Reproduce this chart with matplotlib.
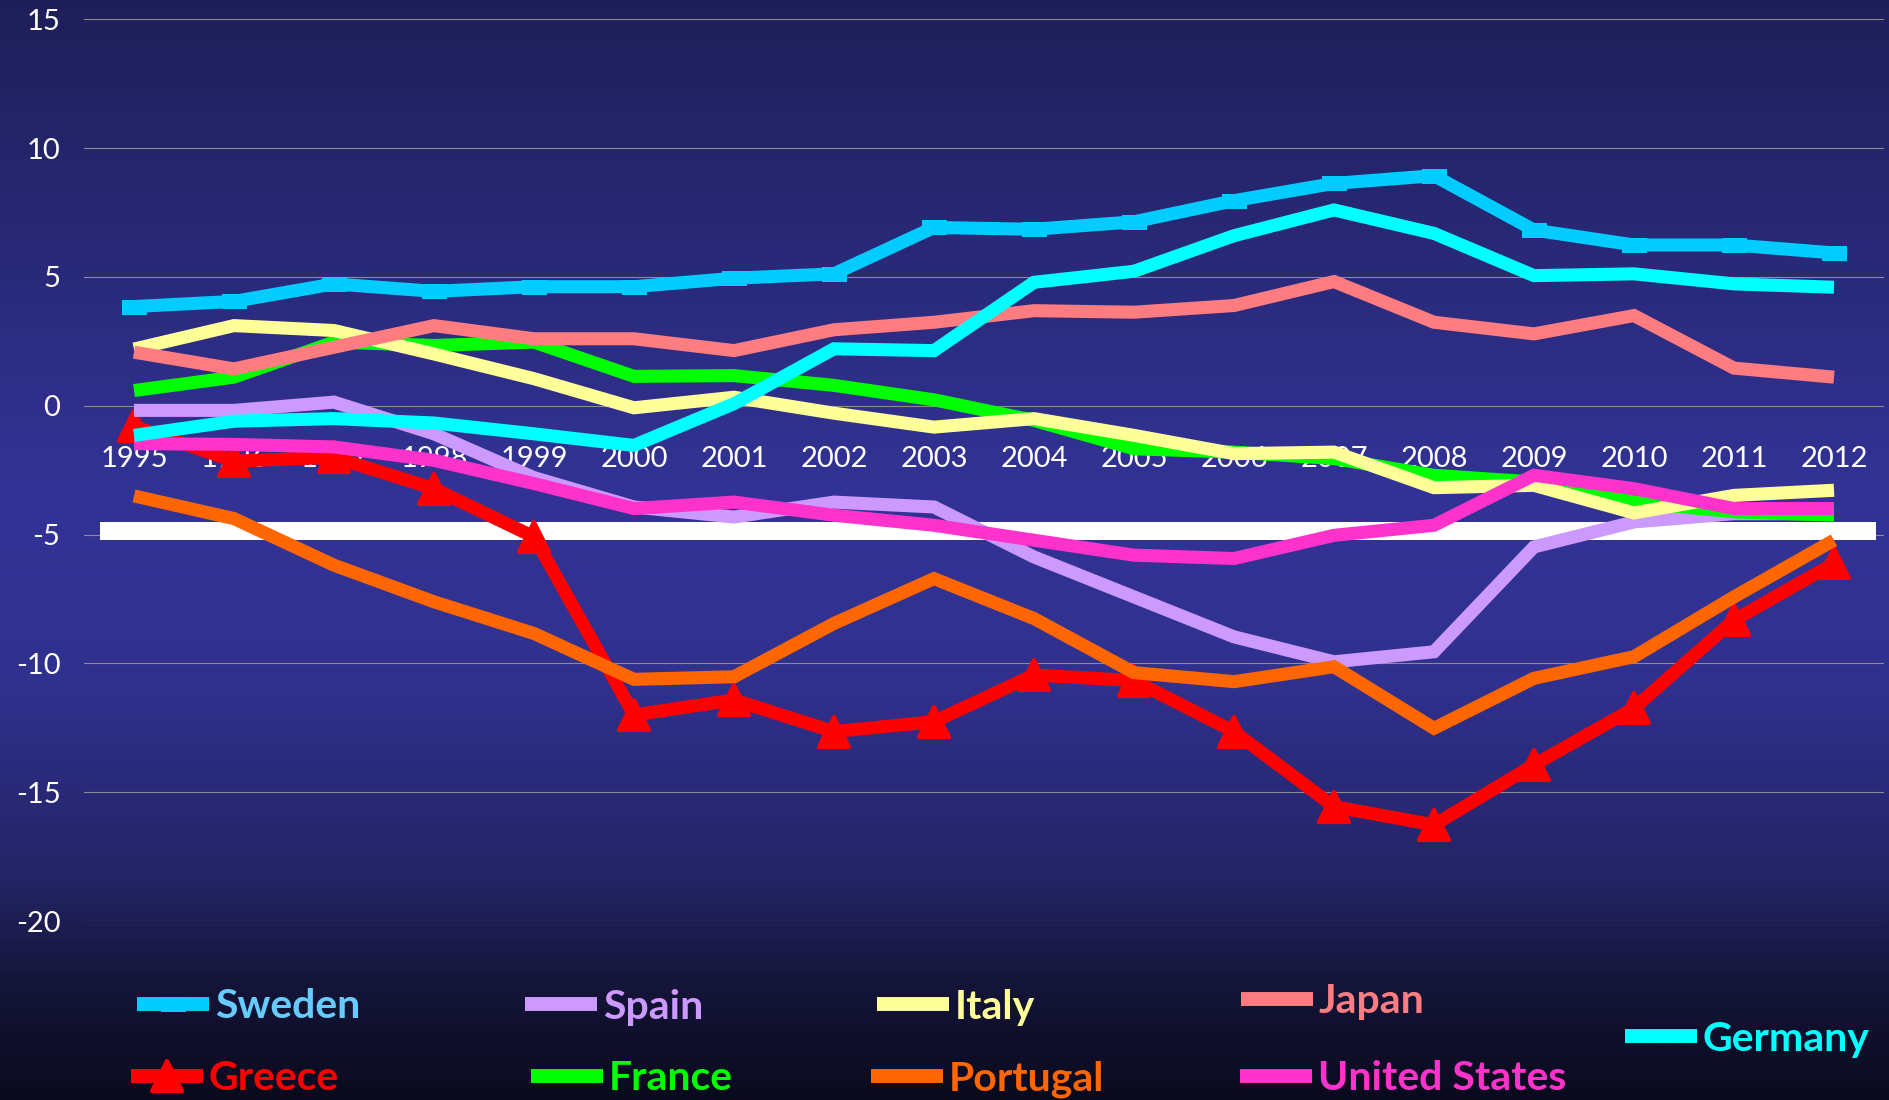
import numpy as np
import matplotlib as mpl
mpl.use("Agg")
import matplotlib.pyplot as plt
from matplotlib.lines import Line2D
from matplotlib.colors import LinearSegmentedColormap

plt.rcParams["font.family"] = ["Lato", "DejaVu Sans"]
plt.rcParams["axes.unicode_minus"] = False

years = [str(y) for y in range(1995, 2013)]

sweden = [3.85, 4.05, 4.73, 4.44, 4.62, 4.62, 4.95, 5.12, 6.92, 6.85, 7.14, 7.96, 8.63, 8.93, 6.82, 6.24, 6.24, 5.93]
germany = [-1.15, -0.6, -0.5, -0.67, -1.09, -1.54, 0.08, 2.21, 2.14, 4.79, 5.22, 6.6, 7.6, 6.69, 5.05, 5.12, 4.73, 4.6]
japan = [2.08, 1.43, 2.27, 3.11, 2.6, 2.6, 2.14, 2.95, 3.24, 3.69, 3.63, 3.89, 4.82, 3.24, 2.79, 3.5, 1.46, 1.11]
italy = [2.2, 3.11, 2.92, 2.01, 1.05, -0.08, 0.33, -0.29, -0.83, -0.5, -1.15, -1.86, -1.8, -3.18, -3.09, -4.16, -3.48, -3.28]
france = [0.59, 1.11, 2.47, 2.34, 2.47, 1.14, 1.17, 0.79, 0.23, -0.57, -1.67, -1.8, -2.05, -2.7, -2.96, -3.74, -4.12, -4.25]
spain = [-0.18, -0.18, 0.14, -1.09, -2.79, -3.93, -4.32, -3.74, -3.93, -5.87, -7.42, -8.97, -9.94, -9.55, -5.48, -4.51, -4.19, -4.19]
united_states = [-1.47, -1.5, -1.6, -2.12, -3.02, -3.99, -3.74, -4.25, -4.64, -5.22, -5.8, -5.93, -5.03, -4.64, -2.7, -3.22, -3.99, -3.99]
portugal = [-3.5, -4.38, -6.19, -7.61, -8.84, -10.62, -10.52, -8.45, -6.71, -8.26, -10.36, -10.71, -10.13, -12.52, -10.58, -9.74, -7.42, -5.22]
greece = [-0.8, -2.15, -2.0, -3.22, -5.09, -12.0, -11.42, -12.65, -12.26, -10.45, -10.67, -12.65, -15.56, -16.27, -13.94, -11.74, -8.32, -6.12]

# white reference band drawn on the slide
band_low, band_high = -5.2, -4.5

rect_marker = [(-1, -0.6), (1, -0.6), (1, 0.6), (-1, 0.6), (-1, -0.6)]
tri_marker = mpl.markers.MarkerStyle("^", joinstyle="round")

# name, data, color, text color, marker, legend anchor (px)
series = [
    ("Greece", greece, "#FF0000", "#FF0000", tri_marker, (131, 1079)),
    ("Spain", spain, "#CC99FF", "#CC99FF", None, (525, 1007)),
    ("France", france, "#00FF00", "#00FF00", None, (531, 1079)),
    ("Italy", italy, "#FFFF99", "#FFFF99", None, (877, 1007)),
    ("Portugal", portugal, "#FF6600", "#FF6600", None, (871, 1079)),
    ("Japan", japan, "#FF7C80", "#FF7C80", None, (1241, 1002)),
    ("United States", united_states, "#FF33CC", "#FF33CC", None, (1240, 1079)),
    ("Germany", germany, "#00FFFF", "#00FFFF", None, (1625, 1039)),
    ("Sweden", sweden, "#00CCFF", "#66CCFF", rect_marker, (137, 1007)),
]

W, H = 1890, 1100
fig = plt.figure(figsize=(W / 100, H / 100), dpi=100)

# background gradient (row 0 = top of the slide)
bg = fig.add_axes([0, 0, 1, 1], zorder=-10)
bg.axis("off")
cmap = LinearSegmentedColormap.from_list("slide", [
    (0.0, (0.12, 0.12, 0.35)),
    (0.45, (0.20, 0.20, 0.59)),
    (0.62, (0.19, 0.19, 0.56)),
    (0.80, (0.14, 0.14, 0.40)),
    (0.90, (0.08, 0.08, 0.22)),
    (1.0, (0.04, 0.04, 0.12)),
])
bg.imshow(np.linspace(0, 1, 400).reshape(-1, 1), aspect="auto", cmap=cmap,
          extent=[0, 1, 0, 1], origin="upper")
bg.set_xlim(0, 1)
bg.set_ylim(0, 1)

left, right, top, bottom = 84, 1884, 19.3, 921
ax = fig.add_axes([left / W, 1 - bottom / H, (right - left) / W, (bottom - top) / H])
ax.set_facecolor("none")

x = np.arange(len(years))
ax.axhspan(band_low, band_high, xmin=0.009, xmax=0.9956, color="white", zorder=1.8, lw=0)

for i, (name, vals, color, tcolor, marker, _) in enumerate(series):
    kw = {}
    if name == "Sweden":
        kw = dict(marker=marker, markersize=18, markeredgewidth=0)
    elif name == "Greece":
        kw = dict(marker=marker, markersize=22, markeredgewidth=3, markeredgecolor=color)
    ax.plot(x, vals, color=color, lw=9.4, solid_joinstyle="miter", solid_capstyle="butt",
            zorder=2 + i * 0.1, **kw)

ax.set_xlim(-0.5, len(years) - 0.5)
ax.set_ylim(-20, 15)
ax.set_yticks(np.arange(-20, 16, 5))
ax.set_xticks(x)
ax.set_xticklabels(years)
ax.grid(axis="y", color="#8C8C8C", lw=0.8)
for s in ax.spines.values():
    s.set_visible(False)
ax.spines["bottom"].set_position(("data", 0))
ax.tick_params(axis="both", length=0, colors="white", labelsize=21)
ax.tick_params(axis="x", pad=29)
ax.tick_params(axis="y", pad=17)

for name, vals, color, tcolor, marker, (px, py) in series:
    kw = {}
    if name == "Sweden":
        kw = dict(marker=marker, markersize=18, markeredgewidth=0)
    elif name == "Greece":
        kw = dict(marker=marker, markersize=22, markeredgewidth=3, markeredgecolor=color)
    h = Line2D([], [], color=color, lw=10, solid_capstyle="butt", **kw)
    fig.legend(handles=[h], labels=[name], loc="center left",
               bbox_to_anchor=(px / W, 1 - py / H), bbox_transform=fig.transFigure,
               frameon=False, borderpad=0, borderaxespad=0, handlelength=1.75,
               handletextpad=0.15, numpoints=1, labelcolor=tcolor,
               prop={"family": ["Lato", "DejaVu Sans"], "weight": "bold", "size": 29.5})

fig.savefig("out.png", dpi=100)
